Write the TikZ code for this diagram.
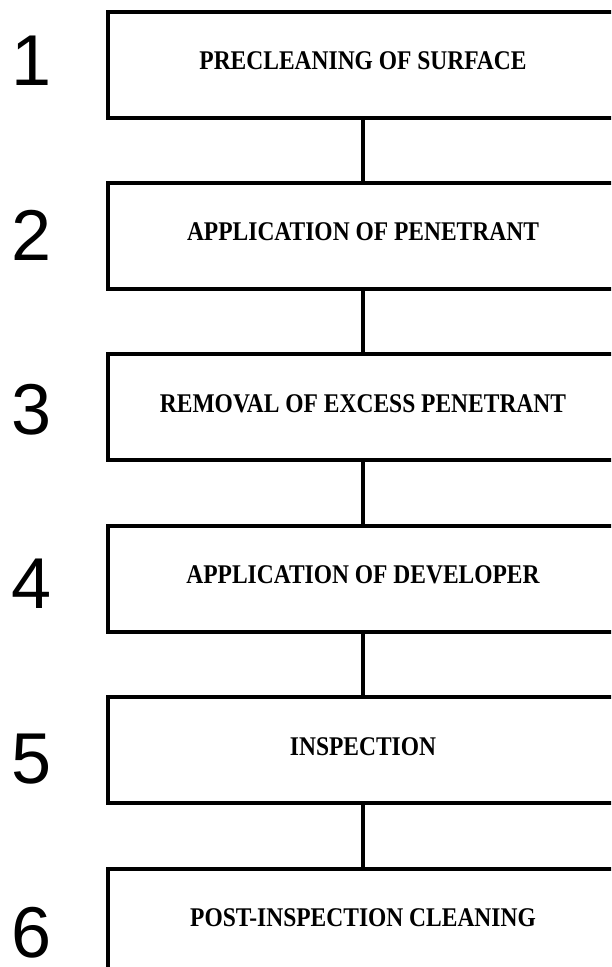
\documentclass[tikz,border=0pt]{standalone}
\usepackage{fontspec}
\setmainfont{Liberation Serif}
\newfontfamily\stagefont{Liberation Serif}[FakeStretch=0.87]
\newfontfamily\numfont{Liberation Sans}
\usetikzlibrary{positioning}

\begin{document}
\begin{tikzpicture}[x=1pt,y=1pt,node distance=171.4pt,on grid,
    stage/.style={draw,line width=4pt,minimum width=510pt,minimum height=106pt,
      text depth=8pt,font=\stagefont\fontsize{27}{30}\selectfont\bfseries},
    num/.style={inner sep=0pt,font=\numfont\fontsize{72}{80}\selectfont},
    link/.style={line width=4pt}]
        % page frame, boxes run off the right edge
      \useasboundingbox (0,0) rectangle (611,-967);
      \clip (0,0) rectangle (611,-967);

      \node[stage]               (s_1) at (363,-64.5) {PRECLEANING OF SURFACE};
      \node[stage, below=of s_1] (s_2)                {APPLICATION OF PENETRANT};
      \node[stage, below=of s_2] (s_3)                {REMOVAL OF EXCESS PENETRANT};
      \node[stage, below=of s_3] (s_4)                {APPLICATION OF DEVELOPER};
      \node[stage, below=of s_4] (s_5)                {INSPECTION};
      \node[stage, below=of s_5] (s_6)                {POST-INSPECTION CLEANING};

      \node[num]                        (n_1) at (32,-61) {1};
      \node[num, below=174.4pt of n_1] (n_2)            {2};
      \node[num, below=174.4pt of n_2] (n_3)            {3};
      \node[num, below=174.4pt of n_3] (n_4)            {4};
      \node[num, below=174.4pt of n_4] (n_5)            {5};
      \node[num, below=174.4pt of n_5] (n_6)            {6};

      \path[link] (s_1) edge (s_2)
                  (s_2) edge (s_3)
                  (s_3) edge (s_4)
                  (s_4) edge (s_5)
                  (s_5) edge (s_6);
\end{tikzpicture}
\end{document}
